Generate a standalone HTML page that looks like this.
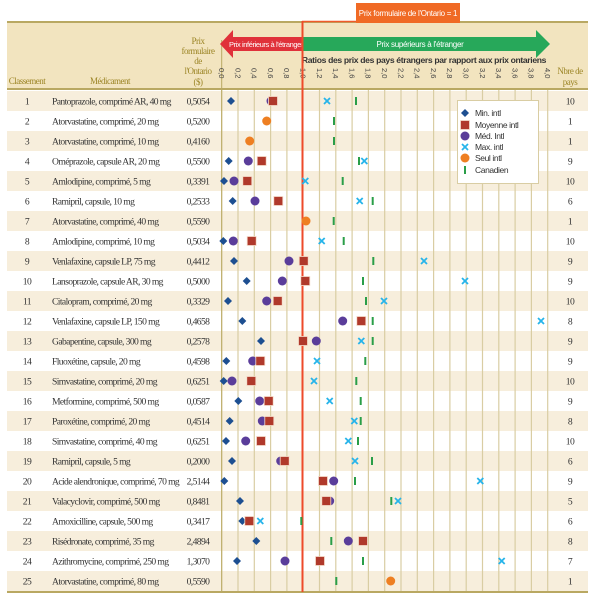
<!DOCTYPE html>
<html><head><meta charset="utf-8"><style>
html,body{margin:0;padding:0;background:#fff;}
svg{display:block;}
.sf{font-family:"Liberation Serif",serif;font-size:9.6px;fill:#333;letter-spacing:-0.6px;}
.hd{font-family:"Liberation Serif",serif;font-size:9px;fill:#9c8526;letter-spacing:-0.5px;}
.tk{font-family:"Liberation Sans",sans-serif;font-size:7.5px;fill:#444;}
.lg{font-family:"Liberation Sans",sans-serif;font-size:8.5px;fill:#333;letter-spacing:-0.4px;}
</style></head><body>
<svg width="600" height="602" viewBox="0 0 600 602" xmlns="http://www.w3.org/2000/svg">
<defs>
<polygon id="d" points="0,-4 4,0 0,4 -4,0" fill="#1d4f91"/>
<rect id="m" x="-4.5" y="-4.5" width="9" height="9" fill="#b0392b" stroke="#f5dccb" stroke-width="0.8"/>
<circle id="c" r="4.5" fill="#5a3d9a"/>
<g id="x" stroke="#27b4ea" stroke-width="1.8"><line x1="-3" y1="-3" x2="3" y2="3"/><line x1="-3" y1="3" x2="3" y2="-3"/></g>
<circle id="s" r="4.5" fill="#ee7f22"/>
<rect id="g" x="-1" y="-4" width="2" height="8" fill="#2a9e48"/>
</defs>
<rect x="7" y="22" width="581" height="67" fill="#f2e4bf"/>
<line x1="7" y1="22" x2="588" y2="22" stroke="#b9a862" stroke-width="2"/>
<line x1="7" y1="89" x2="588" y2="89" stroke="#b9a862" stroke-width="2"/>
<g fill="#f7eedc">
<rect x="7" y="91" width="581" height="20"/><rect x="7" y="131" width="581" height="20"/><rect x="7" y="171" width="581" height="20"/><rect x="7" y="211" width="581" height="20"/><rect x="7" y="251" width="581" height="20"/><rect x="7" y="291" width="581" height="20"/><rect x="7" y="331" width="581" height="20"/><rect x="7" y="371" width="581" height="20"/><rect x="7" y="411" width="581" height="20"/><rect x="7" y="451" width="581" height="20"/><rect x="7" y="491" width="581" height="20"/><rect x="7" y="531" width="581" height="20"/><rect x="7" y="571" width="581" height="20"/>
</g>
<line x1="7" y1="592" x2="588" y2="592" stroke="#b9a862" stroke-width="2"/>
<g stroke="#d9cda3" stroke-width="1.2">
<line x1="221.7" y1="90" x2="221.7" y2="591"/><line x1="238" y1="90" x2="238" y2="591"/><line x1="254.3" y1="90" x2="254.3" y2="591"/><line x1="270.6" y1="90" x2="270.6" y2="591"/><line x1="286.9" y1="90" x2="286.9" y2="591"/><line x1="319.5" y1="90" x2="319.5" y2="591"/><line x1="335.8" y1="90" x2="335.8" y2="591"/><line x1="352.1" y1="90" x2="352.1" y2="591"/><line x1="368.4" y1="90" x2="368.4" y2="591"/><line x1="384.7" y1="90" x2="384.7" y2="591"/><line x1="401" y1="90" x2="401" y2="591"/><line x1="417.3" y1="90" x2="417.3" y2="591"/><line x1="433.6" y1="90" x2="433.6" y2="591"/><line x1="449.9" y1="90" x2="449.9" y2="591"/><line x1="466.2" y1="90" x2="466.2" y2="591"/><line x1="482.5" y1="90" x2="482.5" y2="591"/><line x1="498.8" y1="90" x2="498.8" y2="591"/><line x1="515.1" y1="90" x2="515.1" y2="591"/><line x1="531.4" y1="90" x2="531.4" y2="591"/><line x1="547.7" y1="90" x2="547.7" y2="591"/>
</g>
<line x1="221.7" y1="40" x2="221.7" y2="591" stroke="#b9a862" stroke-width="1"/>
<text class="hd" x="27" y="84" text-anchor="middle">Classement</text>
<text class="hd" x="110" y="84" text-anchor="middle">Médicament</text>
<g class="hd" text-anchor="middle">
<text x="198" y="44">Prix</text><text x="198" y="54">formulaire</text><text x="198" y="64">de</text><text x="198" y="74">l'Ontario</text><text x="198" y="85">($)</text>
<text x="570" y="74">Nbre de</text><text x="570" y="85">pays</text>
</g>
<polygon points="220,44 233,30 233,37 302,37 302,51 233,51 233,58" fill="#e0313a"/>
<text x="266" y="47" font-family="Liberation Sans,sans-serif" font-size="7.5" fill="#fff" text-anchor="middle" letter-spacing="-0.4">Prix inférieurs à l'étranger</text>
<polygon points="302,37 536,37 536,30 550,44 536,58 536,51 302,51" fill="#27a85a"/>
<text x="420" y="47" font-family="Liberation Sans,sans-serif" font-size="8" fill="#fff" text-anchor="middle" letter-spacing="-0.3">Prix supérieurs à l'étranger</text>
<text x="424" y="63" font-family="Liberation Sans,sans-serif" font-size="8.6" font-weight="bold" fill="#333" text-anchor="middle" letter-spacing="-0.35">Ratios des prix des pays étrangers par rapport aux prix ontariens</text>
<g class="tk">
<text transform="translate(219,68) rotate(90)">0,0</text><text transform="translate(235.3,68) rotate(90)">0,2</text><text transform="translate(251.6,68) rotate(90)">0,4</text><text transform="translate(267.9,68) rotate(90)">0,6</text><text transform="translate(284.2,68) rotate(90)">0,8</text><text transform="translate(300.5,68) rotate(90)">1,0</text><text transform="translate(316.8,68) rotate(90)">1,2</text><text transform="translate(333.1,68) rotate(90)">1,4</text><text transform="translate(349.4,68) rotate(90)">1,6</text><text transform="translate(365.7,68) rotate(90)">1,8</text><text transform="translate(382,68) rotate(90)">2,0</text><text transform="translate(398.3,68) rotate(90)">2,2</text><text transform="translate(414.6,68) rotate(90)">2,4</text><text transform="translate(430.9,68) rotate(90)">2,6</text><text transform="translate(447.2,68) rotate(90)">2,8</text><text transform="translate(463.5,68) rotate(90)">3,0</text><text transform="translate(479.8,68) rotate(90)">3,2</text><text transform="translate(496.1,68) rotate(90)">3,4</text><text transform="translate(512.4,68) rotate(90)">3,6</text><text transform="translate(528.7,68) rotate(90)">3,8</text><text transform="translate(545,68) rotate(90)">4,0</text>
</g>
<line x1="302" y1="21.5" x2="357" y2="21.5" stroke="#ef5a2a" stroke-width="1.5"/>
<rect x="356" y="3" width="104" height="20" fill="#f06a25"/>
<text x="408" y="16" font-family="Liberation Sans,sans-serif" font-size="8" fill="#fff" text-anchor="middle" letter-spacing="-0.3">Prix formulaire de l'Ontario = 1</text>
<line x1="302.5" y1="21" x2="302.5" y2="592" stroke="#ee4a2a" stroke-width="2"/>
<g class="sf">
<g text-anchor="middle">
<text x="27" y="104.5">1</text><text x="27" y="124.5">2</text><text x="27" y="144.5">3</text><text x="27" y="164.5">4</text><text x="27" y="184.5">5</text><text x="27" y="204.5">6</text><text x="27" y="224.5">7</text><text x="27" y="244.5">8</text><text x="27" y="264.5">9</text><text x="27" y="284.5">10</text><text x="27" y="304.5">11</text><text x="27" y="324.5">12</text><text x="27" y="344.5">13</text><text x="27" y="364.5">14</text><text x="27" y="384.5">15</text><text x="27" y="404.5">16</text><text x="27" y="424.5">17</text><text x="27" y="444.5">18</text><text x="27" y="464.5">19</text><text x="27" y="484.5">20</text><text x="27" y="504.5">21</text><text x="27" y="524.5">22</text><text x="27" y="544.5">23</text><text x="27" y="564.5">24</text><text x="27" y="584.5">25</text>
<text x="198" y="104.5">0,5054</text><text x="198" y="124.5">0,5200</text><text x="198" y="144.5">0,4160</text><text x="198" y="164.5">0,5500</text><text x="198" y="184.5">0,3391</text><text x="198" y="204.5">0,2533</text><text x="198" y="224.5">0,5590</text><text x="198" y="244.5">0,5034</text><text x="198" y="264.5">0,4412</text><text x="198" y="284.5">0,5000</text><text x="198" y="304.5">0,3329</text><text x="198" y="324.5">0,4658</text><text x="198" y="344.5">0,2578</text><text x="198" y="364.5">0,4598</text><text x="198" y="384.5">0,6251</text><text x="198" y="404.5">0,0587</text><text x="198" y="424.5">0,4514</text><text x="198" y="444.5">0,6251</text><text x="198" y="464.5">0,2000</text><text x="198" y="484.5">2,5144</text><text x="198" y="504.5">0,8481</text><text x="198" y="524.5">0,3417</text><text x="198" y="544.5">2,4894</text><text x="198" y="564.5">1,3070</text><text x="198" y="584.5">0,5590</text>
<text x="570" y="104.5">10</text><text x="570" y="124.5">1</text><text x="570" y="144.5">1</text><text x="570" y="164.5">9</text><text x="570" y="184.5">10</text><text x="570" y="204.5">6</text><text x="570" y="224.5">1</text><text x="570" y="244.5">10</text><text x="570" y="264.5">9</text><text x="570" y="284.5">9</text><text x="570" y="304.5">10</text><text x="570" y="324.5">8</text><text x="570" y="344.5">9</text><text x="570" y="364.5">9</text><text x="570" y="384.5">10</text><text x="570" y="404.5">9</text><text x="570" y="424.5">8</text><text x="570" y="444.5">10</text><text x="570" y="464.5">6</text><text x="570" y="484.5">9</text><text x="570" y="504.5">5</text><text x="570" y="524.5">6</text><text x="570" y="544.5">8</text><text x="570" y="564.5">7</text><text x="570" y="584.5">1</text>
</g>
<text x="52" y="104.5">Pantoprazole, comprimé AR, 40 mg</text>
<text x="52" y="124.5">Atorvastatine, comprimé, 20 mg</text>
<text x="52" y="144.5">Atorvastatine, comprimé, 10 mg</text>
<text x="52" y="164.5">Oméprazole, capsule AR, 20 mg</text>
<text x="52" y="184.5">Amlodipine, comprimé, 5 mg</text>
<text x="52" y="204.5">Ramipril, capsule, 10 mg</text>
<text x="52" y="224.5">Atorvastatine, comprimé, 40 mg</text>
<text x="52" y="244.5">Amlodipine, comprimé, 10 mg</text>
<text x="52" y="264.5">Venlafaxine, capsule LP, 75 mg</text>
<text x="52" y="284.5">Lansoprazole, capsule AR, 30 mg</text>
<text x="52" y="304.5">Citalopram, comprimé, 20 mg</text>
<text x="52" y="324.5">Venlafaxine, capsule LP, 150 mg</text>
<text x="52" y="344.5">Gabapentine, capsule, 300 mg</text>
<text x="52" y="364.5">Fluoxétine, capsule, 20 mg</text>
<text x="52" y="384.5">Simvastatine, comprimé, 20 mg</text>
<text x="52" y="404.5">Metformine, comprimé, 500 mg</text>
<text x="52" y="424.5">Paroxétine, comprimé, 20 mg</text>
<text x="52" y="444.5">Simvastatine, comprimé, 40 mg</text>
<text x="52" y="464.5">Ramipril, capsule, 5 mg</text>
<text x="52" y="484.5">Acide alendronique, comprimé, 70 mg</text>
<text x="52" y="504.5">Valacyclovir, comprimé, 500 mg</text>
<text x="52" y="524.5">Amoxicilline, capsule, 500 mg</text>
<text x="52" y="544.5">Risédronate, comprimé, 35 mg</text>
<text x="52" y="564.5">Azithromycine, comprimé, 250 mg</text>
<text x="52" y="584.5">Atorvastatine, comprimé, 80 mg</text>
</g>
<use href="#d" x="231" y="101"/><use href="#c" x="271" y="101"/><use href="#m" x="273" y="101"/><use href="#x" x="327" y="101"/><use href="#g" x="356" y="101"/>
<use href="#s" x="266.7" y="121"/><use href="#g" x="334" y="121"/>
<use href="#s" x="249.7" y="141"/><use href="#g" x="334" y="141"/>
<use href="#d" x="228.7" y="161"/><use href="#c" x="248.3" y="161"/><use href="#m" x="261.7" y="161"/><use href="#g" x="359" y="161"/><use href="#x" x="364.3" y="161"/>
<use href="#d" x="224" y="181"/><use href="#c" x="234" y="181"/><use href="#m" x="247.3" y="181"/><use href="#x" x="305.3" y="181"/><use href="#g" x="342.7" y="181"/>
<use href="#d" x="232.7" y="201"/><use href="#c" x="255" y="201"/><use href="#m" x="278.3" y="201"/><use href="#x" x="359.7" y="201"/><use href="#g" x="372.7" y="201"/>
<use href="#s" x="306" y="221"/><use href="#g" x="333.7" y="221"/>
<use href="#d" x="223.3" y="241"/><use href="#c" x="233.3" y="241"/><use href="#m" x="251.7" y="241"/><use href="#x" x="321.7" y="241"/><use href="#g" x="343.7" y="241"/>
<use href="#d" x="234" y="261"/><use href="#c" x="289" y="261"/><use href="#m" x="303.7" y="261"/><use href="#g" x="373.3" y="261"/><use href="#x" x="424" y="261"/>
<use href="#d" x="246.7" y="281"/><use href="#c" x="282.3" y="281"/><use href="#m" x="305.3" y="281"/><use href="#g" x="363" y="281"/><use href="#x" x="465" y="281"/>
<use href="#d" x="228" y="301"/><use href="#c" x="266.7" y="301"/><use href="#m" x="277.7" y="301"/><use href="#g" x="366" y="301"/><use href="#x" x="384" y="301"/>
<use href="#d" x="242.3" y="321"/><use href="#c" x="342.7" y="321"/><use href="#m" x="361.3" y="321"/><use href="#g" x="372.7" y="321"/><use href="#x" x="541" y="321"/>
<use href="#d" x="261" y="341"/><use href="#m" x="303" y="341"/><use href="#c" x="316.3" y="341"/><use href="#x" x="361.3" y="341"/><use href="#g" x="372.7" y="341"/>
<use href="#d" x="226.3" y="361"/><use href="#c" x="252.7" y="361"/><use href="#m" x="260.3" y="361"/><use href="#x" x="317" y="361"/><use href="#g" x="365.3" y="361"/>
<use href="#d" x="223.7" y="381"/><use href="#c" x="232" y="381"/><use href="#m" x="251.3" y="381"/><use href="#x" x="314" y="381"/><use href="#g" x="356.3" y="381"/>
<use href="#d" x="238.3" y="401"/><use href="#c" x="259.7" y="401"/><use href="#m" x="268.7" y="401"/><use href="#x" x="329.7" y="401"/><use href="#g" x="360.7" y="401"/>
<use href="#d" x="229.7" y="421"/><use href="#c" x="262.3" y="421"/><use href="#m" x="269.3" y="421"/><use href="#x" x="354.3" y="421"/><use href="#g" x="360.7" y="421"/>
<use href="#d" x="226" y="441"/><use href="#c" x="245.7" y="441"/><use href="#m" x="261" y="441"/><use href="#x" x="348.3" y="441"/><use href="#g" x="358" y="441"/>
<use href="#d" x="232" y="461"/><use href="#c" x="280.7" y="461"/><use href="#m" x="284.7" y="461"/><use href="#x" x="355" y="461"/><use href="#g" x="372" y="461"/>
<use href="#d" x="224.3" y="481"/><use href="#m" x="323" y="481"/><use href="#c" x="333.7" y="481"/><use href="#g" x="355" y="481"/><use href="#x" x="480.3" y="481"/>
<use href="#d" x="240" y="501"/><use href="#c" x="329.7" y="501"/><use href="#m" x="326.3" y="501"/><use href="#g" x="391.3" y="501"/><use href="#x" x="398" y="501"/>
<use href="#d" x="242.3" y="521"/><use href="#m" x="249.3" y="521"/><use href="#x" x="260.3" y="521"/><use href="#g" x="301.3" y="521"/>
<use href="#d" x="256.3" y="541"/><use href="#g" x="331.3" y="541"/><use href="#c" x="348.3" y="541"/><use href="#m" x="363" y="541"/>
<use href="#d" x="237" y="561"/><use href="#c" x="285" y="561"/><use href="#m" x="320" y="561"/><use href="#g" x="363" y="561"/><use href="#x" x="501.7" y="561"/>
<use href="#g" x="336.3" y="581"/><use href="#s" x="390.7" y="581"/>
<rect x="457.5" y="100.5" width="81" height="83" fill="#fff" stroke="#d9cda3" stroke-width="1"/>
<use href="#d" x="465" y="113"/><text class="lg" x="475" y="116">Min. intl</text>
<use href="#m" x="465" y="125"/><text class="lg" x="475" y="128">Moyenne intl</text>
<use href="#c" x="465" y="136"/><text class="lg" x="475" y="139">Méd. Intl</text>
<use href="#x" x="465" y="147"/><text class="lg" x="475" y="150">Max. intl</text>
<use href="#s" x="465" y="158"/><text class="lg" x="475" y="161">Seul intl</text>
<use href="#g" x="465" y="170"/><text class="lg" x="475" y="173">Canadien</text>
</svg>
</body></html>
